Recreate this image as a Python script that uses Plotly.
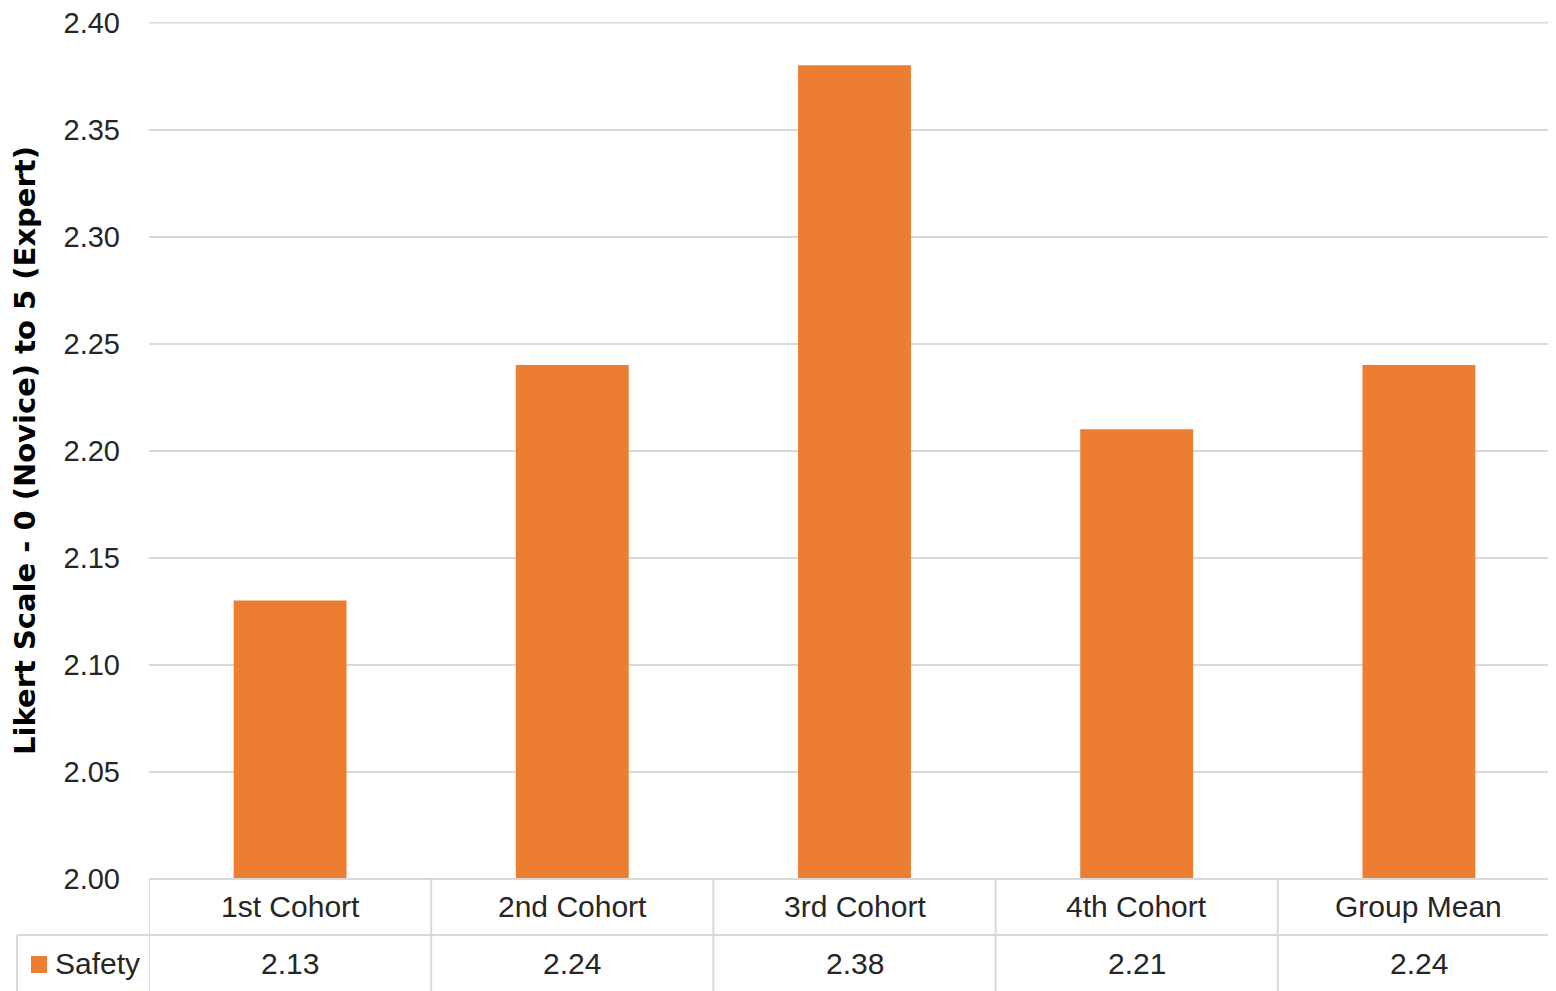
import plotly.graph_objects as go

categories = ["1st Cohort", "2nd Cohort", "3rd Cohort", "4th Cohort", "Group Mean"]
safety = [2.13, 2.24, 2.38, 2.21, 2.24]
series_name = "Safety"
y_ticks = [2.00, 2.05, 2.10, 2.15, 2.20, 2.25, 2.30, 2.35, 2.40]

BAR = "#ED7D31"
GRID = "#D9D9D9"
FONT = "Liberation Sans, Arial"
TXT = "#262626"

# page body has an 8px margin; compensate so the plot lands where the reference has it
OFF = 8
W, H = 1560 - OFF, 991 - OFF
L, R, T, B = 149 - OFF, 0, 22 - OFF, 112
ph = H - T - B
pw = W - L - R

def py(pix):
    return (H - B - (pix - OFF)) / ph

def px(pix):
    return ((pix - OFF) - L) / pw

fig = go.Figure()
fig.add_trace(go.Bar(x=list(range(len(categories))), y=safety, name=series_name,
                     marker=dict(color=BAR, line=dict(width=0)), width=0.4,
                     showlegend=False))

shapes = []
n = len(categories)
# top gridline (plotly drops the grid line sitting on the plot edge)
shapes.append(dict(type="line", xref="paper", yref="y", x0=0, x1=1, y0=y_ticks[-1], y1=y_ticks[-1],
                   line=dict(color=GRID, width=2), layer="below"))
shapes.append(dict(type="line", xref="paper", yref="paper", x0=0, x1=1, y0=0, y1=0,
                   line=dict(color=GRID, width=2)))
shapes.append(dict(type="line", xref="paper", yref="paper", x0=px(17), x1=1, y0=py(935), y1=py(935),
                   line=dict(color=GRID, width=2)))
for i in range(n):
    shapes.append(dict(type="line", xref="x", yref="paper", x0=i - 0.5, x1=i - 0.5,
                       y0=0, y1=py(995), line=dict(color=GRID, width=2)))
shapes.append(dict(type="line", xref="paper", yref="paper", x0=px(17), x1=px(17),
                   y0=py(935), y1=py(995), line=dict(color=GRID, width=2)))
shapes.append(dict(type="rect", xref="paper", yref="paper", x0=px(31), x1=px(47),
                   y0=py(956), y1=py(973), fillcolor=BAR, line=dict(width=0)))

annotations = []
for i, (c, v) in enumerate(zip(categories, safety)):
    annotations.append(dict(x=i, y=py(907), xref="x", yref="paper", text=c, showarrow=False,
                            font=dict(size=30, color=TXT, family=FONT), xanchor="center", yanchor="middle"))
    annotations.append(dict(x=i, y=py(964), xref="x", yref="paper", text=f"{v:.2f}", showarrow=False,
                            font=dict(size=30, color=TXT, family=FONT), xanchor="center", yanchor="middle"))
annotations.append(dict(x=px(53), y=py(964), xref="paper", yref="paper", text=series_name, showarrow=False,
                        font=dict(size=30, color=TXT, family=FONT), xanchor="left", yanchor="middle"))

fig.update_layout(
    width=W, height=H,
    margin=dict(l=L, r=R, t=T, b=B),
    paper_bgcolor="white", plot_bgcolor="white",
    xaxis=dict(range=[-0.5, n - 0.5], showticklabels=False, showgrid=False, zeroline=False,
               showline=False, ticks="", fixedrange=True),
    yaxis=dict(range=[2.0, 2.4002], tickvals=y_ticks, ticktext=[f"{t:.2f}" for t in y_ticks],
               showgrid=True, gridcolor=GRID, gridwidth=2, zeroline=False, showline=False,
               tickfont=dict(size=29, color=TXT, family=FONT), ticklabelstandoff=28,
               ticklabeloverflow="allow",
               title=dict(text="Likert Scale - 0 (Novice) to 5 (Expert)",
                          font=dict(size=29, color="#000000", family="DejaVu Sans", weight="bold"),
                          standoff=21)),
    shapes=shapes,
    annotations=annotations,
    showlegend=False,
)

fig.write_html("out.html")
